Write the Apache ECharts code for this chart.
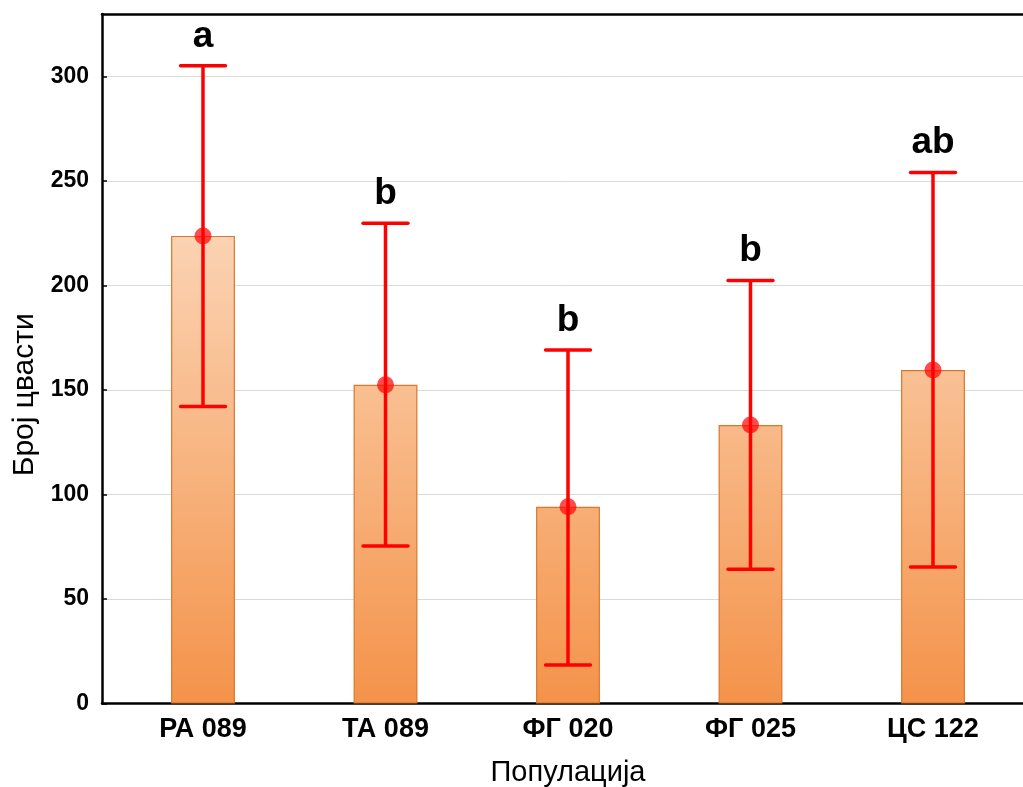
<!DOCTYPE html>
<html>
<head>
<meta charset="utf-8">
<script src="https://cdn.jsdelivr.net/npm/echarts@6/dist/echarts.min.js"></script>
<style>
html,body{margin:0;padding:0;background:#fff;}
#chart{width:1023px;height:787px;}
</style>
</head>
<body>
<div id="chart"></div>
<script>
const categories = ['РА 089', 'ТА 089', 'ФГ 020', 'ФГ 025', 'ЦС 122'];
const means = [223.8, 152.5, 94.2, 133.3, 159.6];
const lower = [142.1, 75.4, 18.4, 64.2, 65.3];
const upper = [305.2, 229.9, 169.2, 202.4, 254.1];
const groupLetters = ['a', 'b', 'b', 'b', 'ab'];
const yTicks = [0, 50, 100, 150, 200, 250, 300];
const yTitle = 'Број цвасти';
const xTitle = 'Популација';

const FONT = '"Liberation Sans", Arial, sans-serif';
const YMAX = 330;

function hex(c){return [parseInt(c.slice(1,3),16),parseInt(c.slice(3,5),16),parseInt(c.slice(5,7),16)];}
function mix(a,b,t){const A=hex(a),B=hex(b);return 'rgb('+A.map((v,i)=>Math.round(v+(B[i]-v)*t)).join(',')+')';}
const cBottom = '#f4934a', cTop = '#fcd8bb';

const chart = echarts.init(document.getElementById('chart'));
const errData = categories.map((c,i)=>[i, lower[i], upper[i], groupLetters[i]]);

chart.setOption({
  animation: false,
  backgroundColor: '#fff',
  grid: [
    {left: 102, right: 0, top: 14, bottom: 83.5, outerBoundsMode: 'none', containLabel: false},
    {left: 111.75, right: -1.25, top: 14, bottom: 83.5, outerBoundsMode: 'none', containLabel: false}
  ],
  xAxis: [
    {gridIndex: 0, type: 'value', min: 0, max: 1, position: 'bottom',
     axisLine: {show: true, lineStyle: {color: '#000', width: 2.5}},
     axisTick: {show: false}, axisLabel: {show: false}, splitLine: {show: false}},
    {gridIndex: 0, type: 'value', min: 0, max: 1, position: 'top',
     axisLine: {show: true, lineStyle: {color: '#000', width: 2.5}},
     axisTick: {show: false}, axisLabel: {show: false}, splitLine: {show: false}},
    {gridIndex: 1, type: 'category', data: categories, position: 'bottom',
     axisLine: {show: false}, axisTick: {show: false},
     axisLabel: {color: '#000', fontFamily: FONT, fontWeight: 'bold', fontSize: 27, margin: 13},
     name: xTitle, nameLocation: 'middle', nameGap: 55,
     nameTextStyle: {color: '#000', fontFamily: FONT, fontSize: 29}}
  ],
  yAxis: [
    {gridIndex: 0, type: 'value', min: 0, max: YMAX, interval: 50,
     axisLine: {show: true, lineStyle: {color: '#000', width: 2.5}},
     axisTick: {show: true, inside: true, length: 5, customValues: yTicks, lineStyle: {color: '#000', width: 1.5}},
     axisLabel: {color: '#000', fontFamily: FONT, fontWeight: 'bold', fontSize: 23, margin: 13, customValues: yTicks},
     splitLine: {show: true, lineStyle: {color: '#d9d9d9', width: 1}},
     name: yTitle, nameLocation: 'middle', nameGap: 62, nameRotate: 90,
     nameTextStyle: {color: '#000', fontFamily: FONT, fontSize: 30, padding: [0, 72, 0, 0]}},
    {gridIndex: 1, type: 'value', min: 0, max: YMAX, show: false}
  ],
  series: [
    {type: 'bar', xAxisIndex: 2, yAxisIndex: 1, data: means, barWidth: '35%',
     itemStyle: {
       borderColor: '#d9782d', borderWidth: 1.2,
       color: function(p){
         const t = Math.min(1, p.value / 240);
         return new echarts.graphic.LinearGradient(0,0,0,1,[
           {offset: 0, color: mix(cBottom, cTop, t)},
           {offset: 1, color: cBottom}
         ]);
       }
     }, z: 2},
    {type: 'custom', xAxisIndex: 2, yAxisIndex: 1, data: errData, z: 5,
     renderItem: function(params, api){
       const x = api.value(0);
       const lo = api.coord([x, api.value(1)]);
       const hi = api.coord([x, api.value(2)]);
       const hw = api.size([1, 0])[0] * 0.123;
       const st = {stroke: '#ff0000', lineWidth: 3.5, lineCap: 'round'};
       return {type: 'group', children: [
         {type: 'line', shape: {x1: hi[0], y1: hi[1], x2: lo[0], y2: lo[1]}, style: {stroke: '#ff0000', lineWidth: 3.5}},
         {type: 'line', shape: {x1: hi[0]-hw, y1: hi[1], x2: hi[0]+hw, y2: hi[1]}, style: st},
         {type: 'line', shape: {x1: lo[0]-hw, y1: lo[1], x2: lo[0]+hw, y2: lo[1]}, style: st},
         {type: 'text', style: {text: api.value(3), x: hi[0], y: hi[1]-11, align: 'center', verticalAlign: 'bottom',
           fill: '#000', font: 'bold 37px ' + FONT}}
       ]};
     }},
    {type: 'scatter', xAxisIndex: 2, yAxisIndex: 1, data: means, symbol: 'circle', symbolSize: 17,
     itemStyle: {color: 'rgba(255,0,0,0.88)'}, z: 6}
  ]
});
</script>
</body>
</html>
